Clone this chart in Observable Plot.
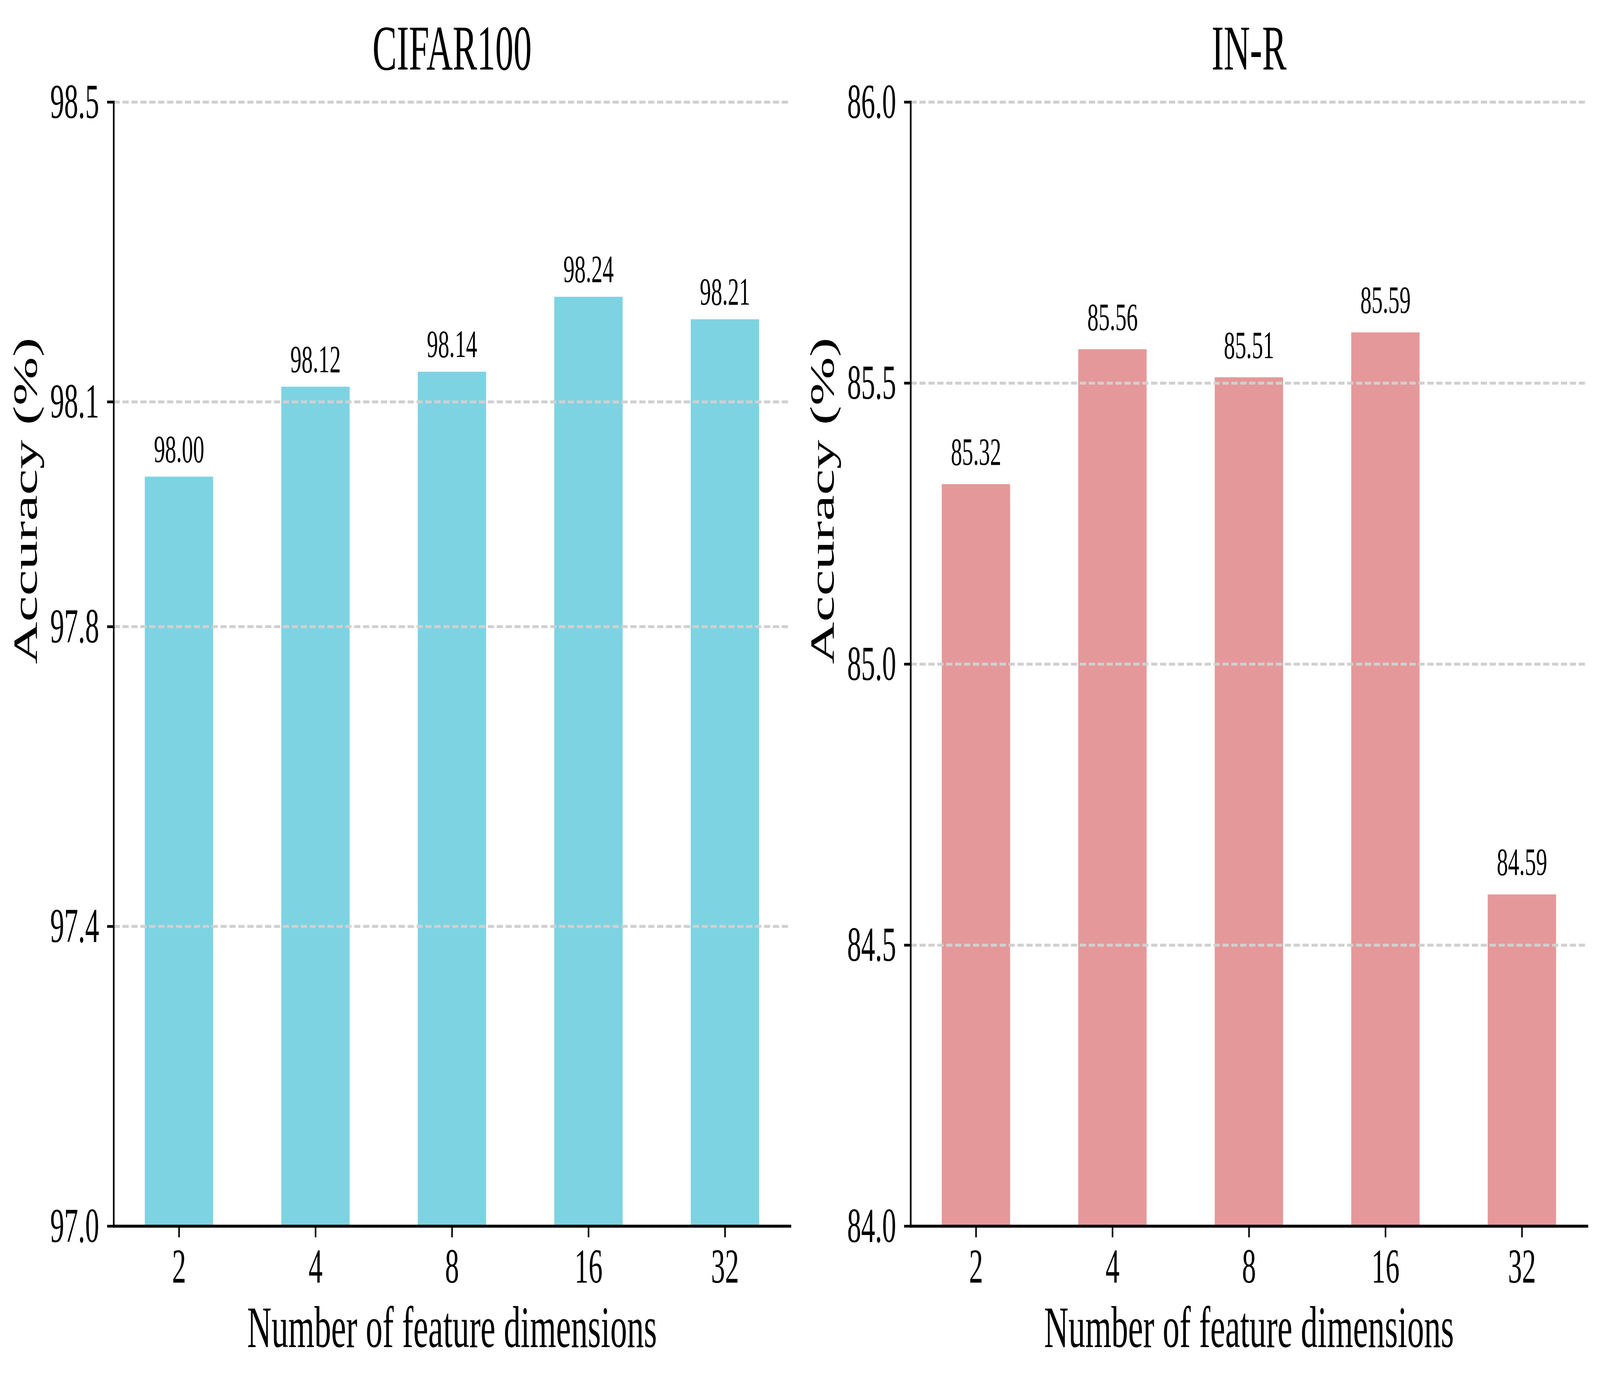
<!DOCTYPE html>
<html>
<head>
<meta charset="utf-8">
<script src="https://cdn.jsdelivr.net/npm/d3@7"></script>
<script src="https://cdn.jsdelivr.net/npm/@observablehq/plot@0.6"></script>
<style>
  html, body { margin: 0; padding: 0; background: #ffffff; overflow: hidden; }
  #chart { width: 100vw; height: 100vh; background: #ffffff; }
  #chart > svg { display: block; width: 100%; height: 100%; }
</style>
</head>
<body>
<div id="chart"></div>
<script>
// ---- data ----
const dims = ["2", "4", "8", "16", "32"];
const cifarAcc = [98.00, 98.12, 98.14, 98.24, 98.21];
const inrAcc = [85.32, 85.56, 85.51, 85.59, 84.59];
const cifarTicks = [97.0, 97.4, 97.8, 98.1, 98.5];
const inrTicks = [84.0, 84.5, 85.0, 85.5, 86.0];
const cifarDomain = [97.0, 98.5];
const inrDomain = [84.0, 86.0];
const titles = ["CIFAR100", "IN-R"];
const xLabel = "Number of feature dimensions";
const yLabel = "Accuracy (%)";

// design size of the figure (the browser viewport may be narrower; the SVG is fitted to it)
const W = 7139, H = 3541;
const FONT = "'Liberation Serif', 'Times New Roman', Times, serif";

function panel({title, acc, ticks, domain, color, width, marginLeft, marginRight, labelDy}) {
  const data = dims.map((d, i) => ({dim: d, acc: acc[i]}));
  return Plot.plot({
    width,
    height: H,
    marginLeft,
    marginRight,
    marginTop: 261,
    marginBottom: 402,
    style: {fontFamily: FONT, background: "#ffffff", color: "#000000", overflow: "visible"},
    x: {type: "band", domain: dims, paddingInner: 0.5, paddingOuter: 0.225, align: 0.5},
    y: {domain},
    marks: [
      Plot.barY(data, {x: "dim", y1: domain[0], y2: "acc", fill: color}),
      Plot.gridY(ticks, {stroke: "#d0d0d0", strokeOpacity: 1, strokeWidth: 7.5, strokeDasharray: "27.75 12"}),
      Plot.frame({anchor: "left", stroke: "#000000", strokeWidth: 7.5, strokeLinecap: "square"}),
      Plot.frame({anchor: "bottom", stroke: "#000000", strokeWidth: 7.5, strokeLinecap: "square"}),
      Plot.axisY(ticks, {
        tickSize: 29, tickPadding: 36, fontSize: 125, strokeWidth: 7,
        tickFormat: d => d.toFixed(1), label: null
      }),
      Plot.axisX({tickSize: 29, tickPadding: 27, fontSize: 125, strokeWidth: 7, label: null}),
      Plot.text(data, {
        x: "dim", y: "acc", text: d => d.acc.toFixed(2),
        lineAnchor: "bottom", dy: labelDy, fontSize: 100, fill: "#000000"
      }),
      Plot.text([title], {frameAnchor: "top", dy: -84, lineAnchor: "bottom", fontSize: 162.5, fill: "#000000"}),
      Plot.text([xLabel], {frameAnchor: "bottom", dy: 309, lineAnchor: "bottom", fontSize: 150, fill: "#000000"}),
      Plot.text([yLabel], {frameAnchor: "left", dx: -344, rotate: -90, lineAnchor: "bottom", fontSize: 150, fill: "#000000"})
    ]
  });
}

const outer = d3.create("svg")
  .attr("xmlns", "http://www.w3.org/2000/svg")
  .attr("viewBox", `0 0 ${W} ${H}`)
  .attr("preserveAspectRatio", "none")
  .style("background", "#ffffff")
  .style("font-family", FONT);
outer.append("rect").attr("width", W).attr("height", H).attr("fill", "#ffffff");

const p1 = panel({
  title: titles[0], acc: cifarAcc, ticks: cifarTicks, domain: cifarDomain,
  color: "#7ed3e2", width: 3570, marginLeft: 507, marginRight: 44, labelDy: -38
});
const p2 = panel({
  title: titles[1], acc: inrAcc, ticks: inrTicks, domain: inrDomain,
  color: "#e59899", width: 3569, marginLeft: 4063 - 3570, marginRight: 3569 - (7082 - 3570), labelDy: -50
});
[[p1, 0], [p2, 3570]].forEach(([svg, x]) => {
  svg.setAttribute("x", x);
  svg.setAttribute("y", 0);
  svg.style.maxWidth = "none";
  svg.style.overflow = "visible";
  outer.node().appendChild(svg);
});

document.getElementById("chart").appendChild(outer.node());
</script>
</body>
</html>
